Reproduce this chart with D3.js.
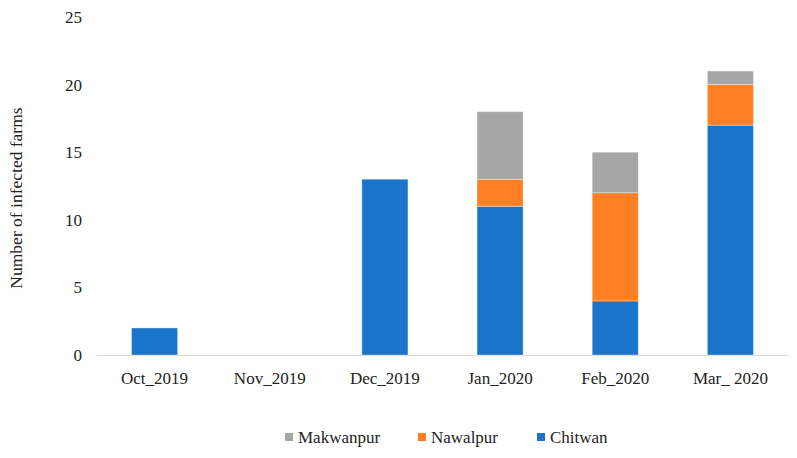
<!DOCTYPE html>
<html><head><meta charset="utf-8">
<script src="https://cdn.jsdelivr.net/npm/d3@7"></script>
<style>body{margin:0;background:#fff}</style>
</head><body>
<svg id="c" width="797" height="458"></svg>
<script>
const categories = ["Oct_2019","Nov_2019","Dec_2019","Jan_2020","Feb_2020","Mar_ 2020"];
const chitwan   = [2, 0, 13, 11, 4, 17];
const nawalpur  = [0, 0, 0, 2, 8, 3];
const makwanpur = [0, 0, 0, 5, 3, 1];
const yTicks = [0,5,10,15,20,25];
const seriesNames = ["Chitwan","Nawalpur","Makwanpur"];
const colors = {"Chitwan":"#1a75ca","Nawalpur":"#fe7f24","Makwanpur":"#a6a6a6"};

const svg = d3.select("#c");
const font = "'Liberation Serif','Times New Roman',serif";
const x = d3.scaleBand().domain(categories).range([97,788]).paddingInner(0.6).paddingOuter(0.3);
const y = d3.scaleLinear().domain([0,25]).range([355,17]);

const rows = categories.map((c,i)=>({cat:c, Chitwan:chitwan[i], Nawalpur:nawalpur[i], Makwanpur:makwanpur[i]}));
const stack = d3.stack().keys(seriesNames)(rows);

svg.append("line").attr("x1",97).attr("x2",788).attr("y1",y(0)+0.5).attr("y2",y(0)+0.5)
  .attr("stroke","#d9d9d9").attr("stroke-width",1);

svg.append("g").selectAll("g").data(stack).join("g")
  .attr("fill",d=>colors[d.key])
  .selectAll("rect").data(d=>d.filter(p=>p[1]-p[0]>0)).join("rect")
  .attr("x",d=>x(d.data.cat)).attr("width",x.bandwidth())
  .attr("y",d=>y(d[1])).attr("height",d=>y(d[0])-y(d[1]))
  .attr("stroke","rgba(255,255,255,0.35)").attr("stroke-width",1);

svg.append("g").selectAll("text").data(yTicks).join("text")
  .attr("x",82).attr("y",d=>y(d)).attr("dy","0.35em").attr("text-anchor","end")
  .attr("font-family",font).attr("font-size",17).attr("fill","#222").text(d=>d);

svg.append("g").selectAll("text").data(categories).join("text")
  .attr("x",d=>x(d)+x.bandwidth()/2).attr("y",384).attr("text-anchor","middle")
  .attr("font-family",font).attr("font-size",17).attr("fill","#222").text(d=>d);

svg.append("text").attr("transform","translate(22,198) rotate(-90)").attr("text-anchor","middle")
  .attr("font-family",font).attr("font-size",17.5).attr("fill","#222").text("Number of infected farms");

const legendItems = [["Makwanpur",285],["Nawalpur",418],["Chitwan",537]];
const lg = svg.append("g").selectAll("g").data(legendItems).join("g");
lg.append("rect").attr("x",d=>d[1]).attr("y",433).attr("width",8).attr("height",8).attr("fill",d=>colors[d[0]]);
lg.append("text").attr("x",d=>d[1]+13).attr("y",443).attr("font-family",font).attr("font-size",17)
  .attr("fill","#222").text(d=>d[0]);
</script>
</body></html>
